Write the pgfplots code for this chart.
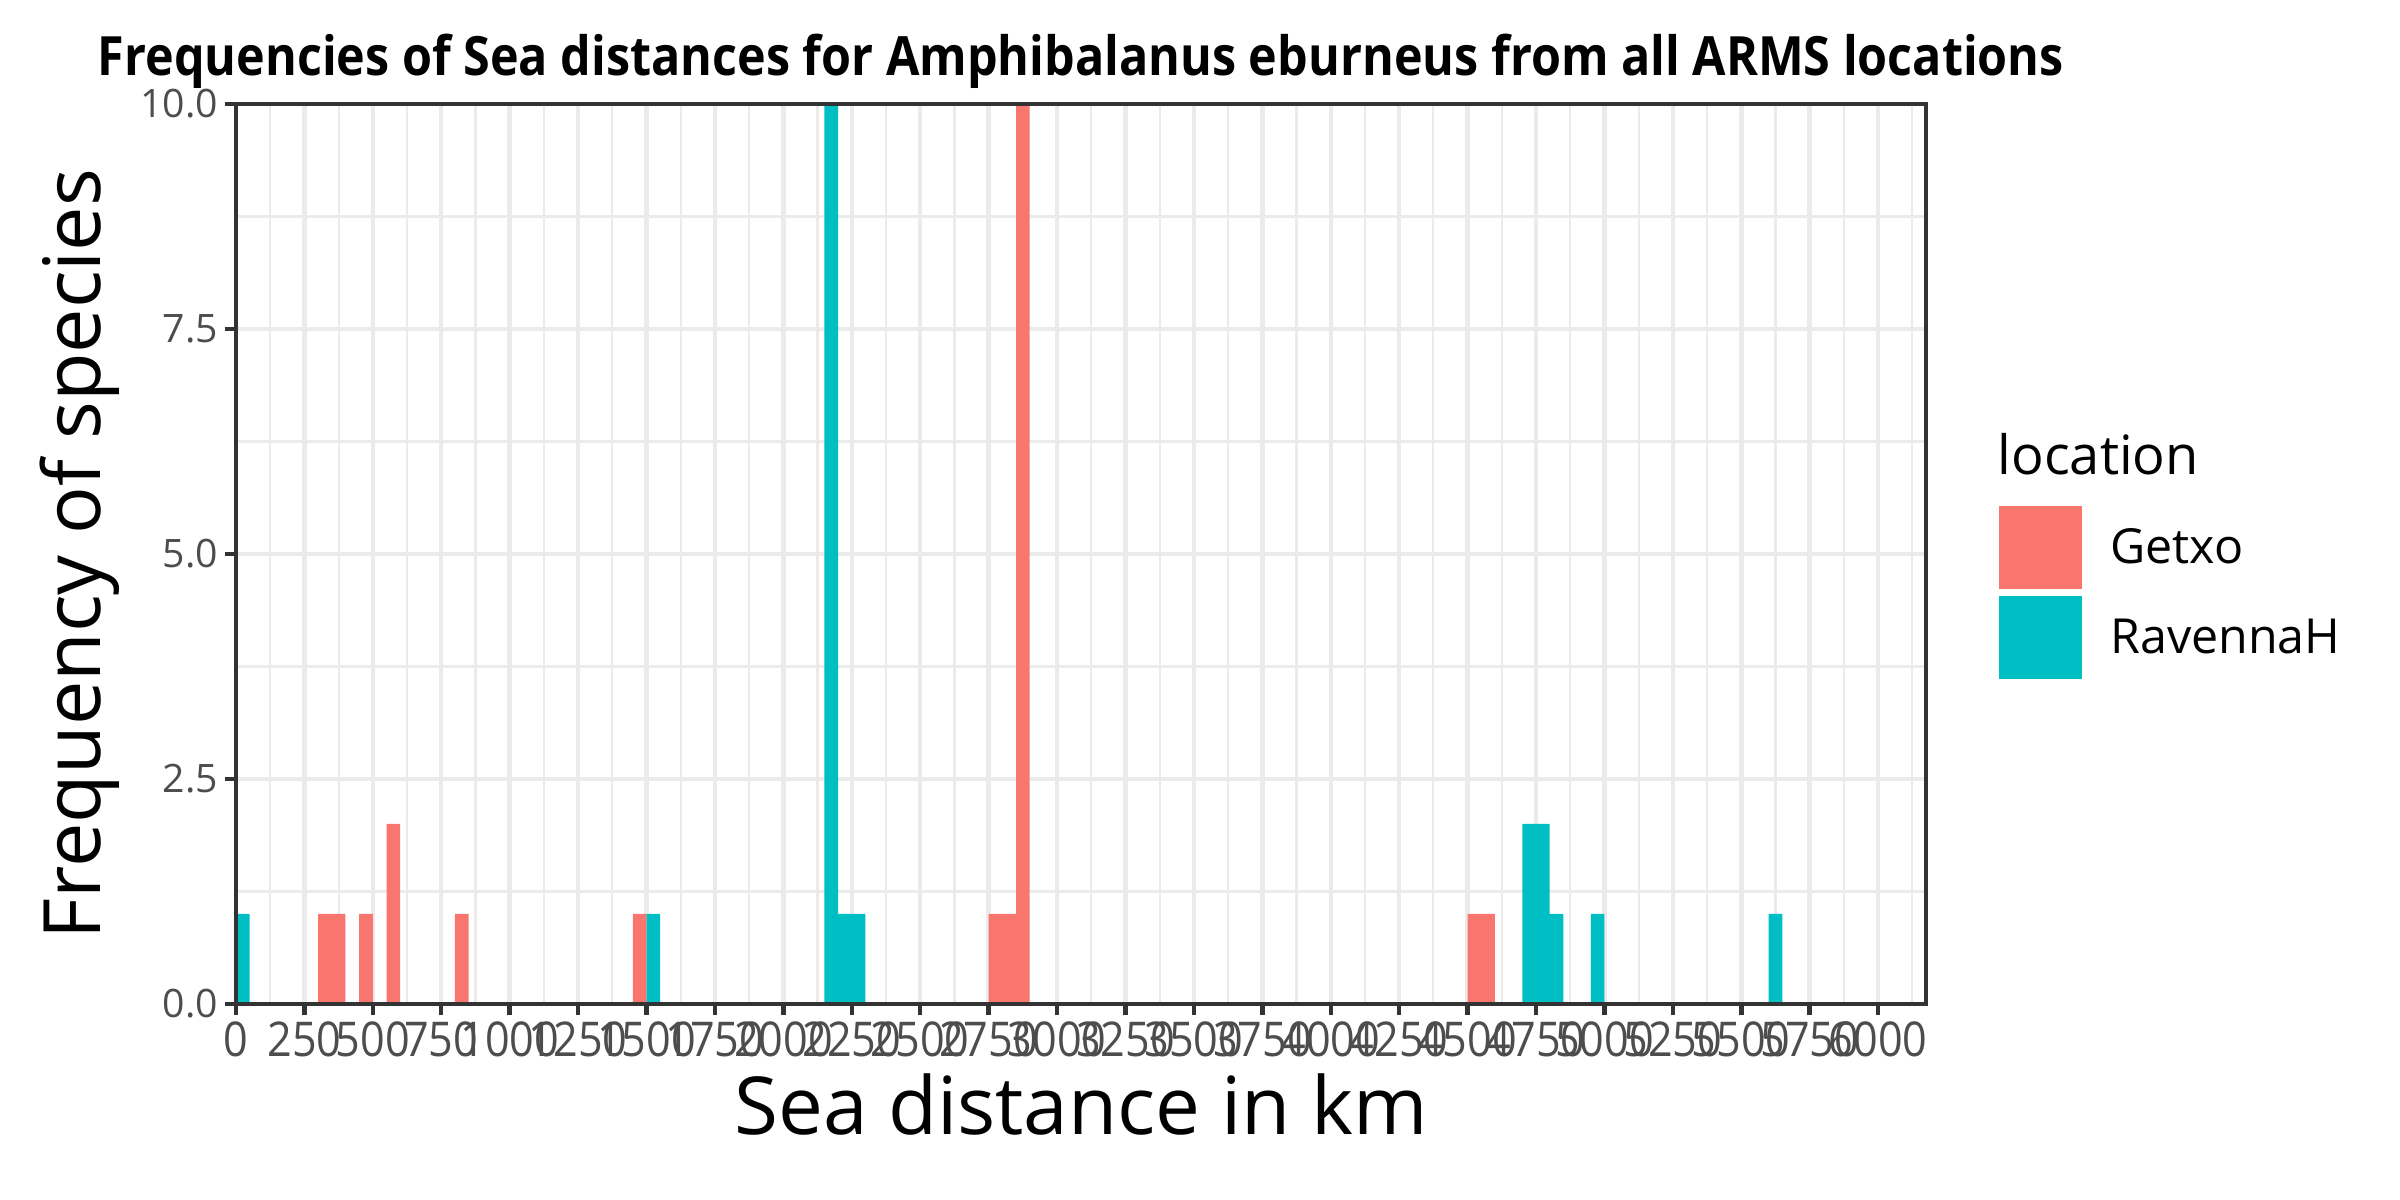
\documentclass[border=0pt]{standalone}
\usepackage{pgfplots}
\pgfplotsset{compat=1.18}
\usepackage{fontspec}
\setmainfont{Open Sans}
\newfontfamily\titlefont{Open Sans}[FakeStretch=0.895]
\newfontfamily\xtickfont{Open Sans}[FakeStretch=0.9]
\definecolor{getxo}{HTML}{F8766D}
\definecolor{ravenna}{HTML}{00BFC4}
\definecolor{grid92}{HTML}{EBEBEB}
\definecolor{grey20}{HTML}{333333}
\definecolor{grey30}{HTML}{4D4D4D}
\begin{document}
\begin{tikzpicture}
\useasboundingbox (-56.64pt,-47.04pt) rectangle (519.36pt,240.96pt);
\begin{axis}[
  at={(0pt,0pt)}, anchor=south west,
  scale only axis, width=405.6pt, height=216pt,
  xmin=0, xmax=6175, ymin=0, ymax=10,
  xtick={0,250,...,6000},
  ytick={0,2.5,5,7.5,10},
  minor xtick={125,375,...,6125},
  minor ytick={1.25,3.75,6.25,8.75},
  grid=both,
  major grid style={grid92, line width=1.07pt},
  minor grid style={grid92, line width=0.53pt},
  tick align=outside, tick pos=left,
  major tick length=2.75pt, minor tick length=0pt,
  tick style={grey20, line width=1.07pt},
  axis line style={grey20, line width=1.07pt},
  /pgf/number format/assume math mode=true,
  /pgf/number format/1000 sep={},
  xticklabel style={font=\xtickfont\fontsize{11.5}{13}\selectfont, text=grey30, inner sep=0pt, yshift=-1.35pt},
  yticklabel style={font=\fontsize{9.4}{11}\selectfont, text=grey30, inner sep=0pt, xshift=-1.35pt,
    /pgf/number format/fixed, /pgf/number format/precision=1, /pgf/number format/fixed zerofill},
  xlabel={Sea distance in km},
  ylabel={Frequency of species},
  every axis x label/.style={at={(axis description cs:0.5,-0.1122)}, anchor=center, inner sep=0pt,
    font=\fontsize{19.2}{22}\selectfont},
  every axis y label/.style={at={(axis description cs:-0.0922,0.5)}, anchor=center, rotate=90, inner sep=0pt,
    font=\fontsize{19}{22}\selectfont},
  ybar, bar width=50,
  legend style={at={(axis description cs:1.0431,0.5532)}, anchor=north west,
    draw=none, fill=none, inner sep=0pt, outer sep=0pt,
    row sep=1.7pt, column sep=6.9pt,
    nodes={inner sep=0pt, font=\fontsize{11.6}{13}\selectfont, text=black}},
  legend cell align=left,
  legend image code/.code={\fill[#1] (0pt,-9.51pt) rectangle (19.9pt,10.39pt);},
]
\addplot[fill=getxo, draw=none, bar shift=0pt] coordinates {
  (325,1) (375,1) (475,1) (575,2) (825,1) (1475,1)
  (2775,1) (2825,1) (2875,10) (4525,1) (4575,1)
};
\addlegendentry{Getxo}
\addplot[fill=ravenna, draw=none, bar shift=0pt] coordinates {
  (25,1) (1525,1) (2175,10) (2225,1) (2275,1)
  (4725,2) (4775,2) (4825,1) (4975,1) (5625,1)
};
\addlegendentry{RavennaH}
\end{axis}
\draw[grey20, line width=1.07pt] (0pt,0pt) rectangle (405.6pt,216pt);
\node[anchor=base, inner sep=0pt, font=\titlefont\bfseries\fontsize{13}{15}\selectfont] at (202.8pt,222.9pt)
  {Frequencies of Sea distances for Amphibalanus eburneus from all ARMS locations};
\node[anchor=base west, inner sep=0pt, font=\fontsize{13}{15}\selectfont] at (422.6pt,127pt) {location};
\end{tikzpicture}
\end{document}
